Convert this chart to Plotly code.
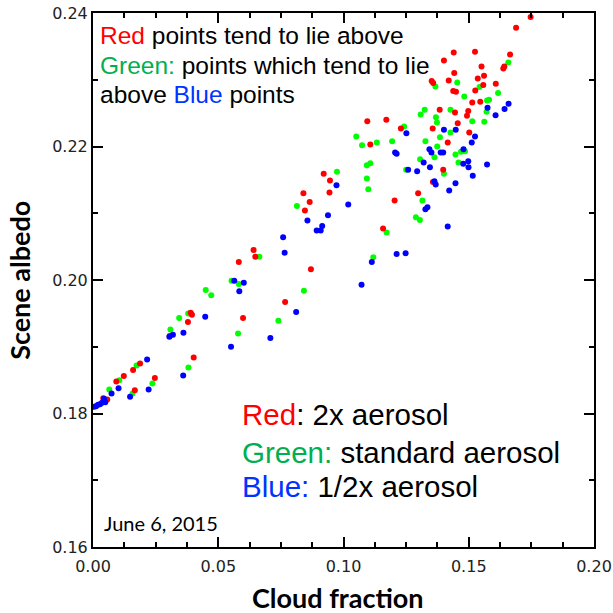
import plotly.graph_objects as go

# ---- data (cloud fraction, scene albedo) ----
red_x = [0.1747, 0.1689, 0.1440, 0.1525, 0.1401, 0.1665, 0.1638, 0.1642, 0.1551, 0.1442,
         0.1352, 0.1358, 0.1420, 0.1536, 0.1561, 0.1558, 0.1608, 0.1526, 0.1438, 0.1449,
         0.1514, 0.1546, 0.1384, 0.1445, 0.1498, 0.1493, 0.1456, 0.1095, 0.1171, 0.1229,
         0.1356, 0.1502, 0.1107, 0.1416, 0.1398, 0.1357, 0.1298, 0.1204, 0.1158, 0.0921,
         0.0946, 0.0944, 0.0840, 0.0865, 0.0846, 0.0641, 0.0648, 0.0582, 0.0870, 0.0767,
         0.0390, 0.0395, 0.0379, 0.0599, 0.0306, 0.0402, 0.0247, 0.0167, 0.0188, 0.0160,
         0.0123, 0.0093, 0.0041, 0.0057]
red_y = [0.2394, 0.2378, 0.2341, 0.2342, 0.2329, 0.2338, 0.2317, 0.2320, 0.2320, 0.2310,
         0.2298, 0.2295, 0.2299, 0.2302, 0.2306, 0.2292, 0.2294, 0.2284, 0.2283, 0.2282,
         0.2266, 0.2267, 0.2255, 0.2251, 0.2253, 0.2246, 0.2235, 0.2238, 0.2240, 0.2227,
         0.2227, 0.2221, 0.2203, 0.2206, 0.2165, 0.2147, 0.2130, 0.2119, 0.2077, 0.2159,
         0.2149, 0.2131, 0.2130, 0.2117, 0.2104, 0.2045, 0.2035, 0.2027, 0.2016, 0.1967,
         0.1951, 0.1948, 0.1937, 0.1943, 0.1916, 0.1884, 0.1853, 0.1835, 0.1875, 0.1865,
         0.1856, 0.1848, 0.1823, 0.1821]

green_x = [0.1658, 0.1367, 0.1454, 0.1543, 0.1482, 0.1617, 0.1573, 0.1581, 0.1571, 0.1562,
           0.1324, 0.1308, 0.1427, 0.1369, 0.1373, 0.1514, 0.1242, 0.1427, 0.1385, 0.1051,
           0.1074, 0.1133, 0.1194, 0.1327, 0.1374, 0.1447, 0.1469, 0.1485, 0.1363, 0.1306,
           0.1459, 0.1250, 0.1093, 0.1107, 0.0974, 0.1401, 0.1093, 0.1099, 0.1315, 0.1289,
           0.1305, 0.1172, 0.1119, 0.0814, 0.0664, 0.0553, 0.0582, 0.0842, 0.0450, 0.0472,
           0.0380, 0.0344, 0.0740, 0.0579, 0.0309, 0.0381, 0.0237, 0.0174, 0.0158, 0.0105,
           0.0065]
green_y = [0.2326, 0.2290, 0.2296, 0.2289, 0.2275, 0.2280, 0.2269, 0.2270, 0.2252, 0.2237,
           0.2255, 0.2248, 0.2255, 0.2244, 0.2236, 0.2238, 0.2230, 0.2221, 0.2214, 0.2215,
           0.2202, 0.2206, 0.2208, 0.2208, 0.2200, 0.2188, 0.2192, 0.2193, 0.2184, 0.2181,
           0.2176, 0.2165, 0.2172, 0.2175, 0.2162, 0.2159, 0.2152, 0.2136, 0.2119, 0.2094,
           0.2090, 0.2071, 0.2034, 0.2111, 0.2035, 0.1999, 0.1994, 0.1984, 0.1985, 0.1977,
           0.1950, 0.1943, 0.1939, 0.1920, 0.1926, 0.1869, 0.1845, 0.1872, 0.1830, 0.1850,
           0.1836]

blue_x = [0.1659, 0.1643, 0.1575, 0.1607, 0.1251, 0.1401, 0.1448, 0.1525, 0.1512, 0.1206,
          0.1212, 0.1343, 0.1351, 0.1388, 0.1398, 0.1479, 0.1320, 0.1345, 0.1478, 0.1498,
          0.1499, 0.1573, 0.1258, 0.1294, 0.1516, 0.1363, 0.1368, 0.1447, 0.1422, 0.1327,
          0.1335, 0.1416, 0.1113, 0.1212, 0.1248, 0.1072, 0.1019, 0.0972, 0.0938, 0.0856,
          0.0915, 0.0893, 0.0909, 0.0759, 0.0765, 0.0564, 0.0602, 0.0584, 0.0811, 0.0448,
          0.0361, 0.0305, 0.0319, 0.0708, 0.0551, 0.0216, 0.0360, 0.0222, 0.0148, 0.0102,
          0.0074, 0.0044, 0.0049, 0.0004, 0.0012, 0.0020, 0.0028, 0.0036]
blue_y = [0.2264, 0.2256, 0.2258, 0.2247, 0.2220, 0.2225, 0.2225, 0.2215, 0.2206, 0.2191,
          0.2189, 0.2196, 0.2191, 0.2191, 0.2191, 0.2196, 0.2176, 0.2169, 0.2174, 0.2178,
          0.2169, 0.2173, 0.2165, 0.2163, 0.2156, 0.2148, 0.2143, 0.2145, 0.2134, 0.2106,
          0.2109, 0.2080, 0.2027, 0.2039, 0.2040, 0.1993, 0.2113, 0.2142, 0.2097, 0.2089,
          0.2081, 0.2074, 0.2074, 0.2064, 0.2041, 0.1999, 0.1996, 0.1983, 0.1952, 0.1945,
          0.1921, 0.1915, 0.1918, 0.1913, 0.1900, 0.1881, 0.1857, 0.1836, 0.1825, 0.1838,
          0.1830, 0.1822, 0.1817, 0.1810, 0.1811, 0.1813, 0.1814, 0.1816]

x_ticks = [0.00, 0.05, 0.10, 0.15, 0.20]
y_ticks = [0.16, 0.18, 0.20, 0.22, 0.24]

fig = go.Figure()
for xs, ys, col, name in [(green_x, green_y, "#00FF00", "standard aerosol"),
                          (red_x, red_y, "#FF0000", "2x aerosol"),
                          (blue_x, blue_y, "#0000FF", "1/2x aerosol")]:
    fig.add_trace(go.Scatter(x=xs, y=ys, mode="markers", name=name,
                             marker=dict(color=col, size=6, line=dict(width=0))))

axis_common = dict(showline=True, linecolor="black", linewidth=2, mirror="allticks",
                   ticks="inside", ticklen=10, tickwidth=1.5, tickcolor="black",
                   showgrid=False, zeroline=False, automargin=False,
                   ticklabeloverflow="allow",
                   tickfont=dict(family="DejaVu Sans", size=16, color="#222"),
                   tickformat=".2f")

fig.update_xaxes(range=[0, 0.2], tickvals=x_ticks, ticklabelstandoff=4, **axis_common,
                 minor=dict(dtick=0.0125, tick0=0, ticks="inside", ticklen=5,
                            tickwidth=1.5, tickcolor="black"))
fig.update_yaxes(range=[0.16, 0.24], tickvals=y_ticks, **axis_common,
                 minor=dict(dtick=0.01, tick0=0.16, ticks="inside", ticklen=5,
                            tickwidth=1.5, tickcolor="black"))

ann_font = "Liberation Sans, Arial, sans-serif"
annotations = [
    dict(text="<span style='color:#FF0000'>Red</span> points tend to lie above",
         x=0.01, y=0.9588, size=24.5),
    dict(text="<span style='color:#00B050'>Green:</span> points which tend to lie",
         x=0.01, y=0.9026, size=24.5),
    dict(text="above <span style='color:#0033FF'>Blue</span> points",
         x=0.01, y=0.8483, size=24.5),
    dict(text="<span style='color:#FF0000'>Red</span>: 2x aerosol",
         x=0.2934, y=0.2472, size=29.5),
    dict(text="<span style='color:#00B050'>Green:</span> standard aerosol",
         x=0.2934, y=0.1779, size=29.5),
    dict(text="<span style='color:#0033FF'>Blue:</span> 1/2x aerosol",
         x=0.2934, y=0.1124, size=29.5),
]
for a in annotations:
    fig.add_annotation(text=a["text"], xref="paper", yref="paper", x=a["x"], y=a["y"],
                       xanchor="left", yanchor="middle", showarrow=False,
                       font=dict(family=ann_font, size=a["size"], color="black"))

fig.add_annotation(text="June 6, 2015", xref="paper", yref="paper", x=0.018, y=0.045,
                   xanchor="left", yanchor="middle", showarrow=False,
                   font=dict(family="Lato, sans-serif", size=20, color="black"))
fig.add_annotation(text="<b>Cloud fraction</b>", xref="paper", yref="paper", x=0.49, y=-0.094,
                   xanchor="center", yanchor="middle", showarrow=False,
                   font=dict(family="Lato, sans-serif", size=27, color="black"))
fig.add_annotation(text="<b>Scene albedo</b>", xref="paper", yref="paper", x=-0.148, y=0.5,
                   xanchor="center", yanchor="middle", showarrow=False, textangle=-90,
                   font=dict(family="Lato, sans-serif", size=27, color="black"))

fig.update_layout(width=613, height=613, showlegend=False, autosize=False,
                  margin=dict(l=93, r=19, t=13, b=66, autoexpand=False),
                  paper_bgcolor="white", plot_bgcolor="white")

# remove the browser's default 8px body margin so the figure fills the window
fig.write_html("out.html", config={"displayModeBar": False, "responsive": False},
               post_script="document.body.style.margin='0px';")
